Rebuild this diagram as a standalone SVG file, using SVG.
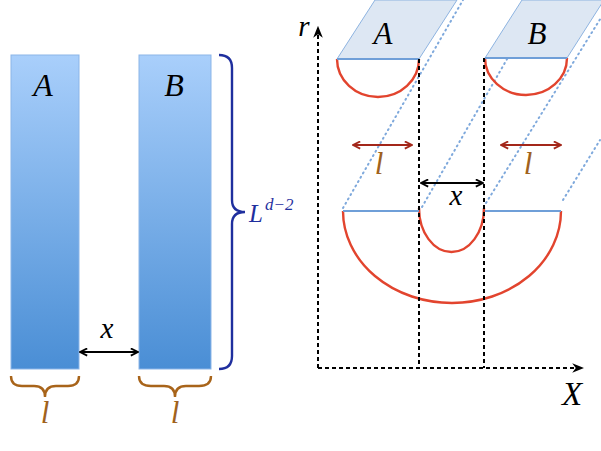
<svg xmlns="http://www.w3.org/2000/svg" width="601" height="451" viewBox="0 0 601 451">
<style>
.lbl{font-family:"Liberation Serif","Times New Roman","DejaVu Serif",serif;font-style:italic;fill:#000}
.brown{fill:#a0621c}
.dash{stroke:#000;stroke-width:2;stroke-dasharray:4,3;fill:none}
.dot{stroke:#7fa9dc;stroke-width:2;stroke-dasharray:1,4;stroke-linecap:round;fill:none}
.red{stroke:#e2442e;stroke-width:2.4;fill:none}
.base{stroke:#6f9fd8;stroke-width:2;fill:none}
.para{fill:#dde7f3;stroke:#8db3e0;stroke-width:1}
</style>
<defs>
<linearGradient id="g" x1="0" y1="0" x2="0" y2="1">
<stop offset="0" stop-color="#a9cffb"/>
<stop offset="1" stop-color="#4a8ed5"/>
</linearGradient>
<marker id="ak" viewBox="0 0 10 10" refX="9" refY="5" markerWidth="9" markerHeight="9" markerUnits="userSpaceOnUse" orient="auto-start-reverse">
<path d="M1,1 L9,5 L1,9" fill="none" stroke="#000" stroke-width="2"/>
</marker>
<marker id="ar" viewBox="0 0 10 10" refX="9" refY="5" markerWidth="9" markerHeight="9" markerUnits="userSpaceOnUse" orient="auto-start-reverse">
<path d="M1,1 L9,5 L1,9" fill="none" stroke="#a3271a" stroke-width="2"/>
</marker>
<marker id="ax" viewBox="0 0 10 10" refX="9" refY="5" markerWidth="12" markerHeight="12" markerUnits="userSpaceOnUse" orient="auto">
<path d="M0,1 L10,5 L0,9 L3,5 Z" fill="#000"/>
</marker>
</defs>

<!-- Left panel -->
<g id="rectA">
<rect x="11" y="55" width="68" height="314" fill="url(#g)" stroke="#8bb5e8" stroke-width="1"/>
<text class="lbl" x="43" y="96" font-size="32" text-anchor="middle">A</text>
</g>
<g id="rectB">
<rect x="139" y="55" width="72" height="314" fill="url(#g)" stroke="#8bb5e8" stroke-width="1"/>
<text class="lbl" x="174" y="96" font-size="32" text-anchor="middle">B</text>
</g>
<g id="braceL">
<path d="M219,55 Q232,55 232,68 L232,200 Q232,212 245,212 Q232,212 232,224 L232,356 Q232,369 219,369" fill="none" stroke="#1f2f9e" stroke-width="2.4"/>
<text class="lbl" x="249" y="222" font-size="25" style="fill:#1f2f9e">L<tspan font-size="17" dy="-12" dx="2">d−2</tspan></text>
</g>
<g id="braceA">
<path d="M11,376 Q11,386 22,386 L34,386 Q45,386 45,397 Q45,386 56,386 L68,386 Q79,386 79,376" fill="none" stroke="#a8641a" stroke-width="2.4"/>
<text class="lbl brown" x="45" y="423" font-size="31" text-anchor="middle">l</text>
</g>
<g id="braceB">
<path d="M139,376 Q139,386 151,386 L164,386 Q175,386 175,397 Q175,386 186,386 L199,386 Q211,386 211,376" fill="none" stroke="#a8641a" stroke-width="2.4"/>
<text class="lbl brown" x="175" y="423" font-size="31" text-anchor="middle">l</text>
</g>
<g id="gapLeft">
<line x1="80" y1="352" x2="138" y2="352" stroke="#000" stroke-width="2" marker-start="url(#ak)" marker-end="url(#ak)"/>
<text class="lbl" x="107" y="338" font-size="29" text-anchor="middle">x</text>
</g>

<!-- Right panel -->
<g id="dotted">
<line class="dot" x1="343" y1="208" x2="463" y2="0"/>
<line class="dot" x1="422" y1="207" x2="541" y2="0"/>
<line class="dot" x1="486" y1="203" x2="612" y2="0"/>
<line class="dot" x1="563" y1="200" x2="600" y2="140"/>
</g>
<g id="paraA">
<polygon class="para" points="337,59 419,59 457,0 375,0"/>
<text class="lbl" x="383" y="44" font-size="31" text-anchor="middle">A</text>
</g>
<g id="paraB">
<polygon class="para" points="485,58 567,58 604,0 522,0"/>
<text class="lbl" x="537" y="44" font-size="31" text-anchor="middle">B</text>
</g>
<g id="arcs">
<path class="red" d="M337,59 A41,38 0 0 0 419,59"/>
<path class="red" d="M485,58 A41,37 0 0 0 567,58"/>
<path class="red" d="M343,211 A109,92 0 0 0 561,211"/>
<path class="red" d="M419,208 A32.5,44 0 0 0 484,208"/>
<line class="base" x1="337" y1="59" x2="419" y2="59"/>
<line class="base" x1="485" y1="58" x2="567" y2="58"/>
<line class="base" x1="343" y1="211" x2="419" y2="211"/>
<line class="base" x1="485" y1="211" x2="561" y2="211"/>
</g>
<g id="axes">
<line class="dash" x1="318" y1="368" x2="318" y2="27" marker-end="url(#ax)"/>
<line class="dash" x1="318" y1="368" x2="583" y2="368" marker-end="url(#ax)"/>
<line class="dash" x1="419" y1="59" x2="419" y2="368"/>
<line class="dash" x1="484" y1="58" x2="484" y2="368"/>
<text class="lbl" x="304" y="36" font-size="29" text-anchor="middle">r</text>
<text class="lbl" x="572" y="405" font-size="33" text-anchor="middle">X</text>
</g>
<g id="measures">
<line x1="353" y1="145" x2="412" y2="145" stroke="#a3271a" stroke-width="2" marker-start="url(#ar)" marker-end="url(#ar)"/>
<line x1="501" y1="145" x2="561" y2="145" stroke="#a3271a" stroke-width="2" marker-start="url(#ar)" marker-end="url(#ar)"/>
<text class="lbl brown" x="379" y="174" font-size="31" text-anchor="middle">l</text>
<text class="lbl brown" x="528" y="174" font-size="31" text-anchor="middle">l</text>
<line x1="421" y1="183" x2="483" y2="183" stroke="#000" stroke-width="2" marker-start="url(#ak)" marker-end="url(#ak)"/>
<text class="lbl" x="456" y="205" font-size="29" text-anchor="middle">x</text>
</g>
</svg>
